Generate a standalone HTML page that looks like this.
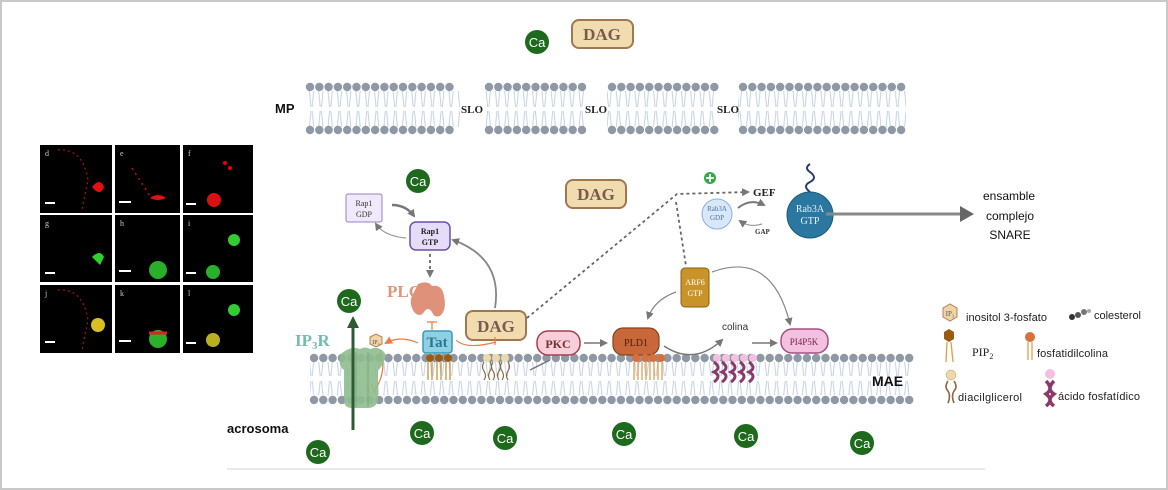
<!DOCTYPE html>
<html><head><meta charset="utf-8"><style>
html,body{margin:0;padding:0;background:#fff}
svg{display:block}
text{font-family:"Liberation Serif",serif}
.s{font-family:"Liberation Sans",sans-serif}
.hd{stroke:#8f99a6;stroke-width:8.4;stroke-linecap:round;stroke-dasharray:0 9.3;fill:none}
</style></head><body>
<svg width="1168" height="490" viewBox="0 0 1168 490" xmlns="http://www.w3.org/2000/svg">
<defs>
<pattern id="tmp" x="0" y="91" width="9.3" height="36" patternUnits="userSpaceOnUse"><path d="M2.5 0 L4 16 M6.8 0 L5.3 16 M2.5 36 L4 20 M6.8 36 L5.3 20" stroke="#bccde0" stroke-width="0.9" fill="none"/></pattern>
<pattern id="tmae" x="0" y="362" width="9.3" height="33" patternUnits="userSpaceOnUse"><path d="M2.5 0 L4 14 M6.8 0 L5.3 14 M2.5 33 L4 19 M6.8 33 L5.3 19" stroke="#bccde0" stroke-width="0.9" fill="none"/></pattern>
<marker id="ag" markerWidth="8" markerHeight="8" refX="6" refY="4" orient="auto" markerUnits="userSpaceOnUse"><path d="M0,0 L8,4 L0,8 z" fill="#777"/></marker>
<marker id="ao" markerWidth="8" markerHeight="8" refX="6" refY="4" orient="auto" markerUnits="userSpaceOnUse"><path d="M0,0 L8,4 L0,8 z" fill="#f07a40"/></marker>
<marker id="agr" markerWidth="12" markerHeight="12" refX="6" refY="6" orient="auto" markerUnits="userSpaceOnUse"><path d="M0,0 L12,6 L0,12 z" fill="#2f5b34"/></marker>
<marker id="abig" markerWidth="14" markerHeight="16" refX="10" refY="8" orient="auto" markerUnits="userSpaceOnUse"><path d="M0,0 L14,8 L0,16 z" fill="#666"/></marker>
</defs>
<rect x="1" y="1" width="1166" height="488" fill="#fff" stroke="#c8c8c8" stroke-width="2"/>

<!-- micrographs -->
<g>
<rect x="40" y="145" width="72" height="68" fill="#000"/><rect x="115" y="145" width="65" height="68" fill="#000"/><rect x="183" y="145" width="70" height="68" fill="#000"/>
<rect x="40" y="215" width="72" height="67" fill="#000"/><rect x="115" y="215" width="65" height="67" fill="#000"/><rect x="183" y="215" width="70" height="67" fill="#000"/>
<rect x="40" y="285" width="72" height="68" fill="#000"/><rect x="115" y="285" width="65" height="68" fill="#000"/><rect x="183" y="285" width="70" height="68" fill="#000"/>
<g fill="#ccc" font-size="8"><text x="45" y="156">d</text><text x="120" y="156">e</text><text x="188" y="156">f</text><text x="45" y="226">g</text><text x="120" y="226">h</text><text x="188" y="226">i</text><text x="45" y="296">j</text><text x="120" y="296">k</text><text x="188" y="296">l</text></g>
<g fill="#fff"><rect x="45" y="202" width="10" height="2"/><rect x="119" y="201" width="12" height="2"/><rect x="186" y="203" width="10" height="2"/><rect x="45" y="272" width="10" height="2"/><rect x="119" y="270" width="12" height="2"/><rect x="186" y="272" width="10" height="2"/><rect x="45" y="341" width="10" height="2"/><rect x="119" y="340" width="12" height="2"/><rect x="186" y="342" width="10" height="2"/></g>
<path d="M58 150 q25 -2 30 30 l-6 30" stroke="#b01010" stroke-width="1.2" stroke-dasharray="2,3" fill="none"/>
<path d="M92 187 q8 -10 12 0 q-4 10 -12 0z" fill="#e21010"/><path d="M150 198 q8 -6 16 0 q-8 4 -16 0z" fill="#e21010"/>
<path d="M132 168 l18 28" stroke="#c01010" stroke-width="1.5" stroke-dasharray="2,4"/>
<circle cx="214" cy="200" r="7" fill="#d81010"/><circle cx="225" cy="163" r="2" fill="#e00"/><circle cx="230" cy="168" r="2" fill="#e00"/>
<path d="M92 257 q8 -8 12 0 l-4 8z" fill="#2fd030"/>
<circle cx="158" cy="270" r="9" fill="#28b028"/><circle cx="234" cy="240" r="6" fill="#33cc33"/><circle cx="213" cy="272" r="7" fill="#29b02a"/>
<path d="M58 290 q25 -2 30 30 l-6 30" stroke="#b01010" stroke-width="1.2" stroke-dasharray="2,3" fill="none"/>
<circle cx="98" cy="325" r="7" fill="#d9c020"/><circle cx="158" cy="339" r="9" fill="#2ab02a"/><path d="M149 333 h18" stroke="#e02020" stroke-width="3"/>
<circle cx="234" cy="310" r="6" fill="#33cc33"/><circle cx="213" cy="340" r="7" fill="#b8b020"/>
</g>

<!-- MP membrane -->
<text x="275" y="113" class="s" font-size="13" font-weight="bold" fill="#111">MP</text>
<g>
<rect x="305" y="91" width="155" height="36" fill="url(#tmp)"/>
<rect x="484" y="91" width="102" height="36" fill="url(#tmp)"/>
<rect x="607" y="91" width="110" height="36" fill="url(#tmp)"/>
<rect x="738" y="91" width="168" height="36" fill="url(#tmp)"/>
<path class="hd" d="M310 87 H458 M310 130 H458 M489 87 H584 M489 130 H584 M612 87 H715 M612 130 H715 M743 87 H906 M743 130 H906"/>
</g>
<g font-size="11" font-weight="bold" fill="#222"><text x="461" y="113">SLO</text><text x="585" y="113">SLO</text><text x="717" y="113">SLO</text></g>

<!-- MAE membrane -->
<rect x="310" y="362" width="600" height="33" fill="url(#tmae)"/>
<path class="hd" d="M314 358 H910 M314 400 H910"/>
<text x="872" y="386" class="s" font-size="14" font-weight="bold" fill="#111">MAE</text>
<text x="227" y="433" class="s" font-size="13" font-weight="bold" fill="#111">acrosoma</text>
<line x1="227" y1="469" x2="985" y2="469" stroke="#e4e4e4" stroke-width="1.5"/>

<!-- Ca circles -->
<g font-size="13" fill="#fff" text-anchor="middle">
<g><circle cx="537" cy="42" r="12" fill="#1d6a1d"/><text x="537" y="47" class="s">Ca</text></g>
<g><circle cx="418" cy="181" r="12" fill="#1d6a1d"/><text x="418" y="186" class="s">Ca</text></g>
<g><circle cx="349" cy="301" r="12" fill="#1d6a1d"/><text x="349" y="306" class="s">Ca</text></g>
<g><circle cx="318" cy="452" r="12" fill="#1d6a1d"/><text x="318" y="457" class="s">Ca</text></g>
<g><circle cx="422" cy="433" r="12" fill="#1d6a1d"/><text x="422" y="438" class="s">Ca</text></g>
<g><circle cx="505" cy="438" r="12" fill="#1d6a1d"/><text x="505" y="443" class="s">Ca</text></g>
<g><circle cx="624" cy="434" r="12" fill="#1d6a1d"/><text x="624" y="439" class="s">Ca</text></g>
<g><circle cx="746" cy="436" r="12" fill="#1d6a1d"/><text x="746" y="441" class="s">Ca</text></g>
<g><circle cx="862" cy="443" r="12" fill="#1d6a1d"/><text x="862" y="448" class="s">Ca</text></g>
</g>

<!-- DAG boxes -->
<g font-size="17" font-weight="bold" fill="#7a5a50" text-anchor="middle">
<rect x="572" y="20" width="61" height="28" rx="7" fill="#f1dcb0" stroke="#a07850" stroke-width="2"/><text x="602" y="40">DAG</text>
<rect x="566" y="180" width="60" height="28" rx="7" fill="#f1dcb0" stroke="#a07850" stroke-width="2"/><text x="596" y="200">DAG</text>
<rect x="466" y="311" width="60" height="29" rx="7" fill="#f1dcb0" stroke="#a07850" stroke-width="2"/><text x="496" y="332">DAG</text>
</g>

<!-- Rap1 -->
<rect x="346" y="194" width="36" height="28" rx="2" fill="#f0e8fb" stroke="#9a80c8"/>
<text x="364" y="206" font-size="8" text-anchor="middle" fill="#333">Rap1</text><text x="364" y="217" font-size="8" text-anchor="middle" fill="#333">GDP</text>
<rect x="410" y="222" width="40" height="28" rx="6" fill="#e4dcf8" stroke="#6a50a8" stroke-width="1.5"/>
<text x="430" y="234" font-size="8" font-weight="bold" text-anchor="middle" fill="#222">Rap1</text><text x="430" y="245" font-size="8" font-weight="bold" text-anchor="middle" fill="#222">GTP</text>
<path d="M392 205 q14 0 22 11" stroke="#777" stroke-width="2.5" fill="none" marker-end="url(#ag)"/>
<path d="M406 238 q-22 -2 -30 -14" stroke="#999" stroke-width="1.2" fill="none" marker-end="url(#ag)"/>
<path d="M430 254 v22" stroke="#777" stroke-width="2" stroke-dasharray="3,3" fill="none" marker-end="url(#ag)"/>
<path d="M495 308 q8 -50 -42 -68" stroke="#888" stroke-width="1.8" fill="none" marker-end="url(#ag)"/>

<!-- PLC -->
<text x="387" y="297" font-size="17" font-weight="bold" fill="#e0957a">PLC</text>
<path d="M418 284 q10 -4 14 2 q10 -2 12 10 q3 14 -4 20 q-6 2 -8 -4 q-4 -6 -8 0 q-4 6 -10 0 q-6 -10 -1 -18 z" fill="#e0917a"/>
<path d="M432 322 v8 M427 322 h10" stroke="#f07a40" stroke-width="1.2"/>

<!-- Tat -->
<rect x="423" y="331" width="29" height="22" rx="3" fill="#8fd0e4" stroke="#3a9ab8" stroke-width="1.5"/>
<text x="437" y="347" font-size="15" font-weight="bold" text-anchor="middle" fill="#2a7890">Tat</text>
<path d="M418 343 q-18 -8 -32 0" stroke="#f07a40" stroke-width="1.2" fill="none" marker-end="url(#ao)"/>
<path d="M456 340 q10 10 40 2 M495 337 v8" stroke="#f07a40" stroke-width="1.2" fill="none"/>
<polygon points="370,337 376,334 382,337 382,344 376,347 370,344" fill="#f0d4a8" stroke="#b08050"/>
<text x="376" y="344" font-size="6" text-anchor="middle" fill="#555">IP₃</text>
<path d="M380 350 q8 20 -6 42 M371 384 l4 10" stroke="#f07a40" stroke-width="1.2" fill="none"/>

<g stroke="#c89040" stroke-width="1.3"><path d="M428 362 v18 M432 362 v18 M437 362 v18 M441 362 v18 M446 362 v18 M450 362 v18"/></g>
<g fill="#9a5c10"><circle cx="430" cy="358" r="4"/><circle cx="439" cy="358" r="4"/><circle cx="448" cy="358" r="4"/></g>
<g fill="#ecd8a8"><circle cx="487" cy="358" r="4"/><circle cx="496" cy="358" r="4"/><circle cx="505" cy="358" r="4"/></g>
<path d="M484 362 q-3 5 0 9 q3 5 0 9 M490 362 q3 5 0 9 q-3 5 0 9 M493 362 q-3 5 0 9 q3 5 0 9 M499 362 q3 5 0 9 q-3 5 0 9 M502 362 q-3 5 0 9 q3 5 0 9 M508 362 q3 5 0 9 q-3 5 0 9" stroke="#8a6a40" stroke-width="1.2" fill="none"/>

<!-- IP3R channel -->
<text x="295" y="346" font-size="17" font-weight="bold" fill="#72bcb0">IP<tspan font-size="11" dy="3">3</tspan><tspan dy="-3">R</tspan></text>
<path d="M340 355 q10 -10 20 -6 q5 -3 10 0 q10 -4 16 6 q-3 12 -8 15 v30 q-2 8 -10 8 h-16 q-8 0 -8 -8 v-30 q-6 -4 -4 -15z" fill="#8fbc8f" opacity="0.9"/>
<path d="M356 352 v55 M368 352 v55" stroke="#7aaa7a" stroke-width="1"/>
<line x1="353" y1="430" x2="353" y2="322" stroke="#2f5b34" stroke-width="3" marker-end="url(#agr)"/>

<!-- PKC, PLD1 -->
<rect x="537" y="331" width="43" height="24" rx="11" fill="#f8cfd8" stroke="#a04050" stroke-width="1.5"/>
<text x="558" y="348" font-size="12" font-weight="bold" text-anchor="middle" fill="#70303a">PKC</text>
<path d="M530 370 q12 -6 20 -10" stroke="#777" stroke-width="1.5" fill="none"/>
<line x1="584" y1="343" x2="606" y2="343" stroke="#777" stroke-width="1.5" marker-end="url(#ag)"/>
<rect x="613" y="328" width="46" height="27" rx="10" fill="#c8683a" stroke="#8a4020" stroke-width="1.2"/>
<text x="636" y="346" font-size="10" text-anchor="middle" fill="#4a1c08">PLD1</text>
<g stroke="#e0a050" stroke-width="1.3"><path d="M634 362 v18 M638 362 v18 M642 362 v18 M646 362 v18 M650 362 v18 M654 362 v18 M658 362 v18 M662 362 v18"/></g>
<g fill="#d8703a"><circle cx="636" cy="358" r="4"/><circle cx="645" cy="358" r="4"/><circle cx="653" cy="358" r="4"/><circle cx="661" cy="358" r="4"/></g>
<path d="M664 346 q30 20 58 -6" stroke="#777" stroke-width="1.5" fill="none" marker-end="url(#ag)"/>
<text x="722" y="330" class="s" font-size="10" fill="#333">colina</text>
<line x1="752" y1="343" x2="776" y2="343" stroke="#777" stroke-width="1.5" marker-end="url(#ag)"/>
<g fill="#f4c0e0"><circle cx="717" cy="358" r="4"/><circle cx="726" cy="358" r="4"/><circle cx="735" cy="358" r="4"/><circle cx="744" cy="358" r="4"/><circle cx="753" cy="358" r="4"/></g>
<path d="M714 362 q8 6 0 10 q8 4 0 10 M722 362 q8 6 0 10 q8 4 0 10 M731 362 q8 6 0 10 q8 4 0 10 M740 362 q8 6 0 10 q8 4 0 10 M749 362 q8 6 0 10 q8 4 0 10" stroke="#8a3a6a" stroke-width="3" fill="none"/>
<rect x="781" y="329" width="47" height="24" rx="11" fill="#f4c0e0" stroke="#a05080" stroke-width="1.5"/>
<text x="804" y="345" font-size="9" text-anchor="middle" fill="#702050">PI4P5K</text>

<!-- ARF6 -->
<rect x="681" y="268" width="28" height="39" rx="4" fill="#c8942a" stroke="#8a6010"/>
<text x="695" y="285" font-size="8" text-anchor="middle" fill="#fff">ARF6</text><text x="695" y="296" font-size="8" text-anchor="middle" fill="#fff">GTP</text>
<path d="M676 292 q-22 8 -28 26" stroke="#888" stroke-width="1.2" fill="none" marker-end="url(#ag)"/>
<path d="M712 272 q60 -22 78 52" stroke="#888" stroke-width="1.2" fill="none" marker-end="url(#ag)"/>

<path d="M527 318 L677 194 L748 192" stroke="#666" stroke-width="1.8" stroke-dasharray="3,3" fill="none" marker-end="url(#ag)"/>
<path d="M676 202 L686 266" stroke="#666" stroke-width="1.8" stroke-dasharray="3,3" fill="none"/>
<circle cx="710" cy="178" r="6" fill="#3aa64a"/><path d="M706 178 h8 M710 174 v8" stroke="#fff" stroke-width="1.8"/>

<!-- Rab3A -->
<text x="753" y="196" font-size="11" font-weight="bold" fill="#222">GEF</text>
<circle cx="717" cy="214" r="15" fill="#d8e8fa" stroke="#8ab0dc"/>
<text x="717" y="211" font-size="7" text-anchor="middle" fill="#5070a0">Rab3A</text><text x="717" y="220" font-size="7" text-anchor="middle" fill="#5070a0">GDP</text>
<path d="M738 208 q12 -10 26 -3" stroke="#777" stroke-width="2" fill="none" marker-end="url(#ag)"/>
<path d="M762 224 q-12 4 -22 -3" stroke="#999" stroke-width="1.2" fill="none" marker-end="url(#ag)"/>
<text x="755" y="234" font-size="7" font-weight="bold" fill="#333">GAP</text>
<path d="M810 192 q-8 -6 0 -10 q8 -4 0 -10 q-6 -4 0 -8" stroke="#2a3a6a" stroke-width="2" fill="none"/>
<circle cx="810" cy="215" r="23" fill="#2a78a0" stroke="#1a5a80"/>
<text x="810" y="212" font-size="10" text-anchor="middle" fill="#e8f0ff">Rab3A</text><text x="810" y="224" font-size="10" text-anchor="middle" fill="#e8f0ff">GTP</text>
<line x1="826" y1="214" x2="970" y2="214" stroke="#888" stroke-width="3" marker-end="url(#abig)"/>
<g font-size="12" fill="#111" text-anchor="middle"><text x="1009" y="200" class="s">ensamble</text><text x="1010" y="220" class="s">complejo</text><text x="1010" y="239" class="s">SNARE</text></g>

<!-- Legend -->
<polygon points="943,308 950,304 957,308 957,317 950,321 943,317" fill="#f0d4a8" stroke="#b08050"/>
<text x="950" y="316" font-size="7" text-anchor="middle" fill="#555">IP₃</text>
<text x="966" y="321" class="s" font-size="11" fill="#222" textLength="81">inositol 3-fosfato</text>
<circle cx="1072" cy="317" r="3" fill="#333"/><circle cx="1078" cy="315" r="3" fill="#555"/><circle cx="1084" cy="312" r="3" fill="#777"/><circle cx="1089" cy="311" r="2" fill="#aaa"/>
<text x="1094" y="319" class="s" font-size="11" fill="#222" textLength="47">colesterol</text>
<polygon points="944,332 949,329 954,332 954,339 949,342 944,339" fill="#9a5c10"/>
<path d="M947 342 l-1 20 M951 342 l2 20" stroke="#e0a040" stroke-width="1.3"/>
<text x="972" y="356" font-size="12" fill="#222">PIP<tspan font-size="8" dy="3">2</tspan></text>
<circle cx="1030" cy="337" r="5" fill="#d8703a"/><path d="M1028 342 v18 M1032 342 v18" stroke="#e0a050" stroke-width="1.3"/>
<text x="1037" y="357" class="s" font-size="11" fill="#222" textLength="71">fosfatidilcolina</text>
<circle cx="951" cy="375" r="5" fill="#ecd8a8" stroke="#b89868" stroke-width="0.5"/>
<path d="M948 381 q-4 6 0 10 q3 5 0 12 M954 381 q4 6 0 10 q-3 5 0 12" stroke="#8a6a40" stroke-width="1.6" fill="none"/>
<text x="958" y="401" class="s" font-size="11" fill="#222" textLength="64">diacilglicerol</text>
<circle cx="1050" cy="374" r="5" fill="#f4c0e0"/>
<path d="M1046 381 q8 8 0 13 q8 6 0 12 M1054 381 q-8 8 0 13 q-8 6 0 12" stroke="#8a3a6a" stroke-width="3.5" fill="none"/>
<text x="1058" y="400" class="s" font-size="11" fill="#222" textLength="82">ácido fosfatídico</text>
</svg>
</body></html>
